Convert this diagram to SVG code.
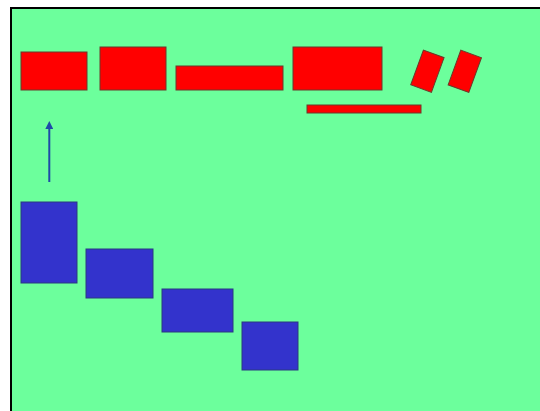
<svg xmlns="http://www.w3.org/2000/svg" width="540" height="411" viewBox="0 0 540 411">
<style>
.red{fill:#ff0000;stroke:#6b3a2a;stroke-width:1}
.blue{fill:#3333cc;stroke:#2a3a80;stroke-width:1}
</style>
<defs>
<marker id="ah" markerWidth="8" markerHeight="8" refX="4" refY="4" orient="auto" markerUnits="userSpaceOnUse">
<path d="M0,0 L8,4 L0,8 z" fill="#1f4aa8"/>
</marker>
</defs>
<rect x="0" y="0" width="540" height="411" fill="#ffffff"/>
<rect x="11" y="8" width="535" height="410" fill="#6cff9c" stroke="#000" stroke-width="2"/>
<g id="r1"><rect class="red" x="21" y="52" width="66" height="38"/></g>
<g id="r2"><rect class="red" x="100" y="47" width="66" height="43"/></g>
<g id="r3"><rect class="red" x="176" y="66" width="107" height="24"/></g>
<g id="r4"><rect class="red" x="293" y="47" width="89" height="43"/></g>
<g id="r5"><rect class="red" x="307" y="105" width="114" height="8"/></g>
<g id="r6"><rect class="red" x="-11" y="-18.5" width="22" height="37" transform="translate(427.4,71.2) rotate(20)"/></g>
<g id="r7"><rect class="red" x="-11" y="-18.5" width="22" height="37" transform="translate(464.8,71.3) rotate(20)"/></g>
<g id="b1"><rect class="blue" x="21" y="202" width="56" height="81"/></g>
<g id="b2"><rect class="blue" x="86" y="249" width="67" height="49"/></g>
<g id="b3"><rect class="blue" x="162" y="289" width="71" height="43"/></g>
<g id="b4"><rect class="blue" x="242" y="322" width="56" height="48"/></g>
<g id="connectors">
<line x1="49.3" y1="182" x2="49.3" y2="125" stroke="#1f4aa8" stroke-width="2" marker-end="url(#ah)"/>
</g>
</svg>
